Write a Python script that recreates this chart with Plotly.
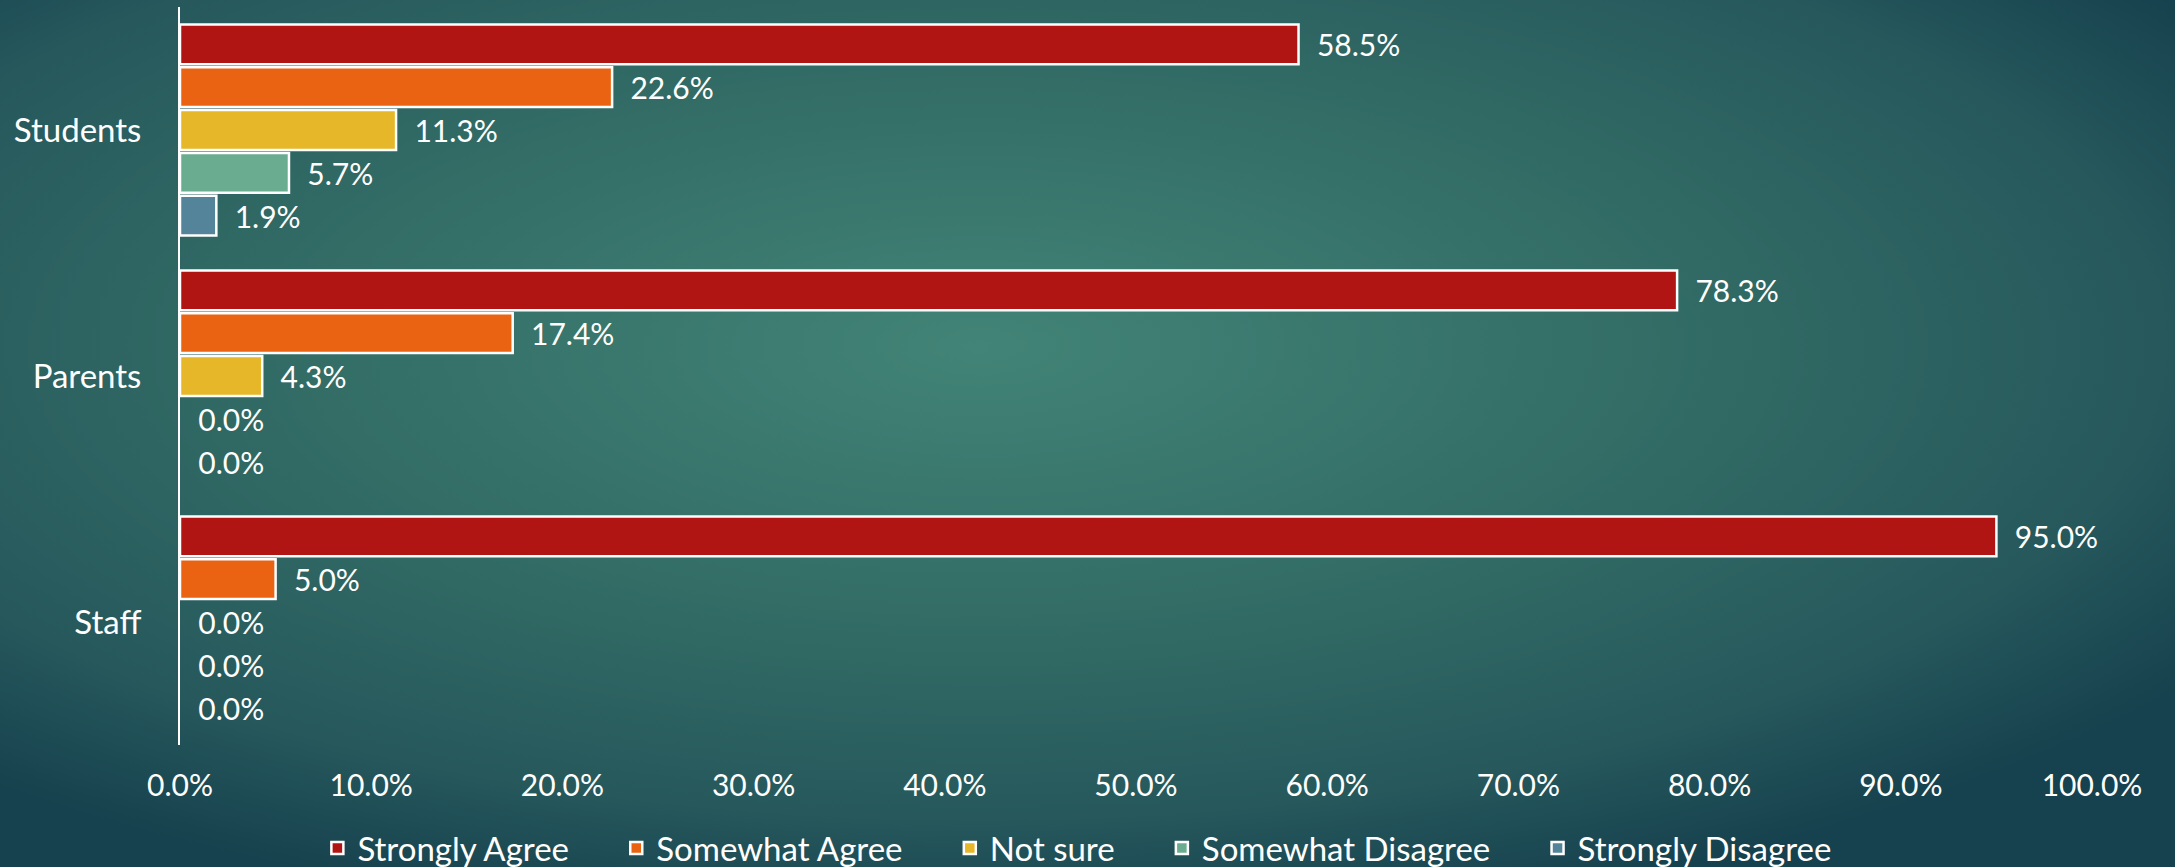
import base64
import plotly.graph_objects as go

categories = ["Students", "Parents", "Staff"]
series_names = ["Strongly Agree", "Somewhat Agree", "Not sure", "Somewhat Disagree", "Strongly Disagree"]
strongly_agree = [0.585, 0.783, 0.950]
somewhat_agree = [0.226, 0.174, 0.050]
not_sure = [0.113, 0.043, 0.0]
somewhat_disagree = [0.057, 0.0, 0.0]
strongly_disagree = [0.019, 0.0, 0.0]
series_values = [strongly_agree, somewhat_agree, not_sure, somewhat_disagree, strongly_disagree]
colors = ["#B01513", "#EA6312", "#E6B729", "#6AAC90", "#54849A"]
x_ticks = [i / 10 for i in range(11)]

W, H = 2175, 867
L, R, T, B = 180, 83, 7, 122
FONT = "Lato"
PAD = "\u00a0" * 5

fig = go.Figure()
for name, vals, col in zip(series_names, series_values, colors):
    fig.add_trace(go.Bar(
        y=categories, x=vals, name=name + PAD, orientation="h",
        marker=dict(color=col, line=dict(color="white",
                                         width=[2.5 if v > 0 else 0 for v in vals])),
        texttemplate="\u00a0\u00a0%{x:.1%}", textposition="outside",
        textfont=dict(color="white", size=30, family=FONT),
        constraintext="none", cliponaxis=False,
    ))

svg = f'''<svg xmlns="http://www.w3.org/2000/svg" width="{W}" height="{H}" viewBox="0 0 {W} {H}" preserveAspectRatio="none">
<defs><radialGradient id="g" cx="0.45" cy="0.40" r="0.68" fx="0.45" fy="0.40">
<stop offset="0" stop-color="#428477"/>
<stop offset="0.45" stop-color="#336d66"/>
<stop offset="0.8" stop-color="#26585c"/>
<stop offset="1" stop-color="#16414e"/>
</radialGradient></defs>
<rect width="{W}" height="{H}" fill="url(#g)"/></svg>'''
uri = "data:image/svg+xml;base64," + base64.b64encode(svg.encode()).decode()
pw, ph = W - L - R, H - T - B

fig.update_layout(
    width=W, height=H,
    margin=dict(l=L, r=R, t=T, b=B),
    paper_bgcolor="#22545a", plot_bgcolor="rgba(0,0,0,0)",
    barmode="group", bargap=0.13, bargroupgap=0.07,
    font=dict(family=FONT, color="white", size=30),
    images=[dict(source=uri, xref="paper", yref="paper",
                 x=-L / pw, y=1 + T / ph, sizex=W / pw, sizey=H / ph,
                 xanchor="left", yanchor="top", sizing="stretch", layer="below")],
    xaxis=dict(range=[0, 1], tickvals=x_ticks, tickformat=".1%", showgrid=False,
               zeroline=False, showline=False, ticks="", ticklabelstandoff=20,
               tickfont=dict(size=30, color="white", family=FONT)),
    yaxis=dict(categoryorder="array", categoryarray=categories, range=[2.5, -0.5],
               showline=True, linecolor="white", linewidth=2, showgrid=False,
               ticks="", ticklabelstandoff=30,
               tickfont=dict(size=33, color="white", family=FONT)),
    legend=dict(orientation="h", xref="container", yref="container",
                x=0.505, xanchor="center", y=0.022, yanchor="middle",
                traceorder="normal", font=dict(size=33, color="white", family=FONT),
                bgcolor="rgba(0,0,0,0)"),
    showlegend=True,
)

fig.write_html("out.html", config={"displayModeBar": False},
               post_script="document.body.style.margin='0px';document.body.style.overflow='hidden';")
